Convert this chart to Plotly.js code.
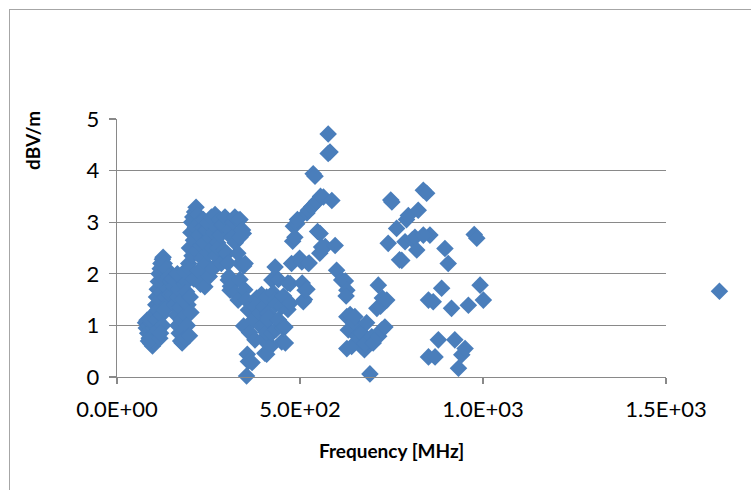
<!DOCTYPE html>
<html>
<head>
<meta charset="utf-8">
<script src="https://cdn.plot.ly/plotly-3.0.1.min.js"></script>
<style>
  html, body { margin: 0; padding: 0; background: #ffffff; }
  #frame { position: absolute; left: 9px; top: 9px; width: 800px; height: 800px; border: 1px solid #a6a6a6; }
  #chart { position: absolute; left: 0; top: 0; width: 751px; height: 490px; }
</style>
</head>
<body>
<div id="frame"></div>
<div id="chart"></div>
<script>
// Frequency [MHz]
const frequency = [
  78,80,82,84,86,88,90,92,94,95,97,98,100,101,103,104,90,86,
  104,106,107,108,110,111,112,113,115,116,117,118,120,121,122,124,126,128,129,131,132,134,135,137,138,140,142,144,146,125,119,130,
  150,152,155,157,160,162,164,166,168,170,172,174,176,178,180,182,184,186,188,190,192,194,196,198,200,202,176,165,185,
  196,198,200,202,204,205,207,209,210,212,214,216,218,220,222,224,226,228,230,232,
  234,236,238,240,242,245,248,250,252,255,258,260,262,265,268,270,272,275,277,280,282,285,288,290,292,295,297,300,303,304,306,309,310,310,314,318,322,323,323,332,336,336,336,336,343,345,346,350,330,
  331,346,349,354,354,356,359,359,362,369,373,377,377,382,388,395,395,399,401,404,408,409,409,413,413,414,421,423,423,427,432,432,434,434,441,441,450,450,455,455,459,460,467,467,473,473,477,
  480,482,486,491,493,499,505,506,509,512,514,519,519,523,523,525,532,536,541,541,545,548,555,556,559,554,564,569,577,577,582,587,596,600,614,624,628,626,
  628,628,632,637,641,647,650,656,665,669,676,678,682,691,696,700,710,714,715,720,723,725,732,737,
  741,748,751,764,772,778,787,791,796,807,814,819,823,837,846,851,851,855,864,869,878,887,896,905,914,923,933,942,951,960,976,983,992,1001,837,
  1646
];
// dBV/m
const fieldStrength = [
  1.05,0.95,1.1,0.85,1.0,0.75,0.9,0.65,1.05,0.8,0.6,0.7,0.95,1.15,0.85,1.0,1.12,0.7,
  1.25,1.4,1.1,1.55,1.7,1.3,0.9,1.85,2.0,1.5,0.75,2.1,2.2,1.65,1.2,2.28,2.32,1.9,2.2,2.05,1.55,1.75,2.1,1.9,1.4,1.7,1.95,1.6,1.85,1.0,0.85,1.3,
  1.9,1.6,1.75,1.4,1.85,1.2,1.55,1.0,1.7,0.85,1.35,0.7,1.1,0.66,1.5,0.9,1.8,0.75,1.2,1.65,1.0,1.4,1.9,0.8,1.55,1.25,1.95,2.0,2.05,
  2.2,2.5,2.1,2.8,3.0,2.35,3.1,2.65,1.9,3.2,2.9,3.29,2.45,3.15,2.05,2.75,3.0,1.8,2.55,2.3,
  2.9,3.05,2.6,1.75,2.2,2.85,3.0,2.4,1.95,2.7,3.1,2.5,2.1,2.8,3.15,2.35,2.9,2.6,2.5,3.05,2.75,2.2,2.95,2.97,2.45,3.1,2.4,2.39,2.21,1.88,1.95,1.68,1.76,2.85,2.7,3.0,3.1,1.63,2.6,3.04,3.05,2.71,2.2,1.89,2.85,2.78,2.15,2.2,2.4,
  1.49,0.99,1.69,1.49,0.02,0.44,1.3,0.3,0.86,0.28,1.11,1.36,0.72,1.53,1.24,0.97,1.6,0.73,1.37,0.46,0.86,1.55,0.44,1.23,1.1,1.15,0.6,1.88,0.85,1.63,2.13,1.49,0.92,1.4,1.11,1.89,1.36,0.68,0.95,1.57,0.97,0.66,1.31,1.82,1.81,1.43,2.2,
  2.63,2.92,2.71,2.97,3.05,2.3,2.23,1.82,1.46,1.5,1.68,1.7,3.18,2.2,3.23,2.21,3.3,3.94,3.89,3.36,3.4,2.82,2.78,3.5,2.52,2.4,3.49,2.53,4.71,4.33,4.36,3.42,2.55,2.07,1.88,1.86,1.68,1.57,
  1.17,0.55,0.91,1.21,0.59,1.05,1.17,0.79,0.86,0.85,0.53,0.65,1.05,0.06,0.78,0.66,1.33,1.78,0.79,1.37,0.91,1.53,0.97,1.49,
  2.59,3.43,3.39,2.88,2.27,2.26,2.62,3.05,3.13,2.66,2.71,2.46,3.23,3.62,3.56,1.49,0.39,2.75,1.46,0.39,0.72,1.72,2.49,2.2,1.33,0.72,0.17,0.43,0.55,1.39,2.76,2.69,1.78,1.49,2.75,
  1.66
];
const xTickValues = [0, 500, 1000, 1500];
const xTickLabels = ['0.0E+00', '5.0E+02', '1.0E+03', '1.5E+03'];
const yTickValues = [0, 1, 2, 3, 4, 5];
const xTitle = 'Frequency [MHz]';
const yTitle = 'dBV/m';

const fontFamily = 'Lato, "Open Sans", sans-serif';
const markerStyle = { symbol: 'diamond', size: 13.5, color: '#4a7ebb', line: { width: 0 } };

// layout geometry
const W = 751, H = 490;
const mL = 117, mR = 11, mT = 119, mB = 113;
const axisEndPx = 666;                      // where the visible x axis (1.5E+03) ends
const plotW = W - mL - mR;
const mainDomainEnd = (axisEndPx - mL) / plotW;
const xMax = xTickValues[xTickValues.length - 1];
const wideMax = xMax / mainDomainEnd;

// split data: points inside the visible axis, and points beyond it (drawn outside the axis like the original)
const inX = [], inY = [], outX = [], outY = [];
frequency.forEach((f, i) => {
  if (f <= xMax) { inX.push(f); inY.push(fieldStrength[i]); }
  else { outX.push(f); outY.push(fieldStrength[i]); }
});

const traces = [
  { type: 'scatter', mode: 'markers', x: inX, y: inY, cliponaxis: false, marker: markerStyle, xaxis: 'x', yaxis: 'y' },
  { type: 'scatter', mode: 'markers', x: outX, y: outY, cliponaxis: false, marker: markerStyle, xaxis: 'x2', yaxis: 'y2' }
];

const gridColor = '#898989';
const layout = {
  width: W,
  height: H,
  margin: { l: mL, r: mR, t: mT, b: mB },
  paper_bgcolor: 'rgba(0,0,0,0)',
  plot_bgcolor: 'rgba(0,0,0,0)',
  showlegend: false,
  font: { family: fontFamily, color: '#000000' },
  xaxis: {
    domain: [0, mainDomainEnd],
    anchor: 'y',
    range: [0, xMax],
    tickvals: xTickValues,
    ticktext: xTickLabels,
    ticks: 'outside',
    ticklen: 6,
    tickwidth: 1.3,
    tickcolor: gridColor,
    showgrid: false,
    zeroline: false,
    showline: true,
    linecolor: gridColor,
    linewidth: 1.3,
    tickfont: { size: 22, family: fontFamily, color: '#000' },
    ticklabelstandoff: 6,
    fixedrange: true
  },
  yaxis: {
    domain: [0, 1],
    anchor: 'x',
    range: [0, 5],
    tickvals: yTickValues,
    ticks: 'outside',
    ticklen: 7,
    tickwidth: 1.3,
    tickcolor: gridColor,
    showgrid: true,
    gridcolor: gridColor,
    gridwidth: 1.3,
    zeroline: false,
    showline: true,
    linecolor: gridColor,
    linewidth: 1.3,
    tickfont: { size: 22, family: fontFamily, color: '#000' },
    ticklabelstandoff: 5,
    fixedrange: true
  },
  xaxis2: { domain: [0, 1], anchor: 'y2', range: [0, wideMax], visible: false, showgrid: false, zeroline: false, fixedrange: true },
  yaxis2: { domain: [0, 1], anchor: 'x2', range: [0, 5], visible: false, showgrid: false, zeroline: false, fixedrange: true },
  annotations: [
    {
      text: '<b>' + xTitle + '</b>',
      xref: 'paper', yref: 'paper',
      x: (0.5 * (mL + axisEndPx) - mL) / plotW, y: -0.283,
      xanchor: 'center', yanchor: 'middle',
      showarrow: false,
      font: { size: 19, family: fontFamily, color: '#000' }
    },
    {
      text: '<b>' + yTitle + '</b>',
      xref: 'paper', yref: 'paper',
      x: (33 - mL) / plotW, y: 0.915,
      xanchor: 'center', yanchor: 'middle',
      textangle: -90,
      showarrow: false,
      font: { size: 19, family: fontFamily, color: '#000' }
    }
  ]
};

Plotly.newPlot('chart', traces, layout, { displayModeBar: false, staticPlot: true });
</script>
</body>
</html>
